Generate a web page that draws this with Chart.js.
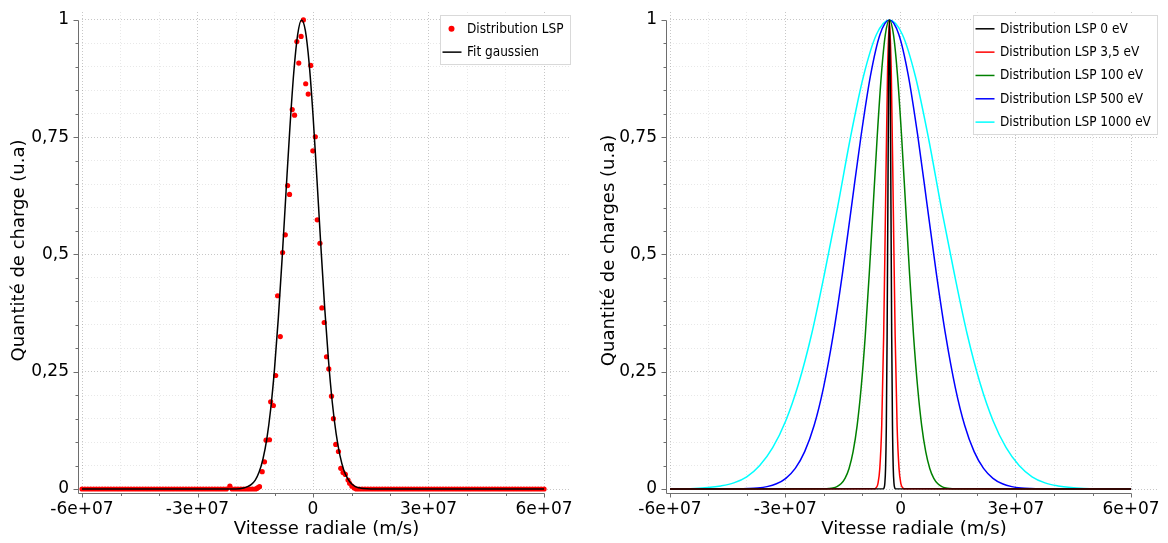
<!DOCTYPE html>
<html lang="fr">
<head>
<meta charset="utf-8">
<title>Distribution LSP</title>
<script src="https://cdn.jsdelivr.net/npm/chart.js@4.4.1/dist/chart.umd.min.js"></script>
<style>
  html, body { margin: 0; padding: 0; background: #fff; }
  .ligne { display: flex; width: 1168px; height: 543px; }
  canvas { display: block; }
</style>
</head>
<body>
<div class="ligne">
  <canvas id="graphe-mesure" width="584" height="543"></canvas>
  <canvas id="graphe-energies" width="584" height="543"></canvas>
</div>
<script>
// --- DONNÉES (vitesses en 1e6 m/s) ---

// Distribution LSP mesurée (points rouges) : [vitesse, charge]
const mesureLSP = [
  [-60, 0], [-59.25, 0], [-58.5, 0], [-57.75, 0], [-57, 0], [-56.25, 0], [-55.5, 0], [-54.75, 0], [-54, 0], [-53.25, 0],
  [-52.5, 0], [-51.75, 0], [-51, 0], [-50.25, 0], [-49.5, 0], [-48.75, 0], [-48, 0], [-47.25, 0], [-46.5, 0], [-45.75, 0],
  [-45, 0], [-44.25, 0], [-43.5, 0], [-42.75, 0], [-42, 0], [-41.25, 0], [-40.5, 0], [-39.75, 0], [-39, 0], [-38.25, 0],
  [-37.5, 0], [-36.75, 0], [-36, 0], [-35.25, 0], [-34.5, 0], [-33.75, 0], [-33, 0], [-32.25, 0], [-31.5, 0], [-30.75, 0],
  [-30, 0], [-29.25, 0], [-28.5, 0], [-27.75, 0], [-27, 0], [-26.25, 0], [-25.5, 0], [-24.75, 0], [-24, 0], [-23.25, 0],
  [-22.5, 0], [-21.6, 0.006], [-21, 0], [-20.25, 0], [-19.5, 0], [-18.75, 0], [-18, 0], [-17.25, 0], [-16.5, 0], [-15.75, 0],
  [-15, 0], [-14.6, 0.001], [-14.3, 0.003], [-13.9, 0.005], [-13.2, 0.037], [-12.6, 0.058], [-12.2, 0.104], [-11.3, 0.105],
  [-11.0, 0.186], [-10.3, 0.178], [-9.7, 0.242], [-9.2, 0.412], [-8.5, 0.325], [-7.9, 0.504], [-7.2, 0.542], [-6.6, 0.647],
  [-6.1, 0.628], [-5.4, 0.809], [-4.8, 0.797], [-4.2, 0.954], [-3.7, 0.908], [-3.1, 0.965], [-2.5, 1.0], [-1.9, 0.864],
  [-1.25, 0.842], [-0.6, 0.903], [-0.05, 0.721], [0.6, 0.751], [1.1, 0.574], [1.8, 0.524], [2.3, 0.386], [2.9, 0.355],
  [3.5, 0.282], [4.1, 0.256], [4.8, 0.198], [5.3, 0.150], [5.9, 0.095], [6.6, 0.080], [7.2, 0.044], [7.8, 0.035],
  [8.4, 0.031], [9.1, 0.019], [9.5, 0.012], [10.1, 0.006], [10.7, 0.002],
  [11.25, 0], [12, 0], [12.75, 0], [13.5, 0], [14.25, 0], [15, 0], [15.75, 0], [16.5, 0], [17.25, 0], [18, 0],
  [18.75, 0], [19.5, 0], [20.25, 0], [21, 0], [21.75, 0], [22.5, 0], [23.25, 0], [24, 0], [24.75, 0], [25.5, 0],
  [26.25, 0], [27, 0], [27.75, 0], [28.5, 0], [29.25, 0], [30, 0], [30.75, 0], [31.5, 0], [32.25, 0], [33, 0],
  [33.75, 0], [34.5, 0], [35.25, 0], [36, 0], [36.75, 0], [37.5, 0], [38.25, 0], [39, 0], [39.75, 0], [40.5, 0],
  [41.25, 0], [42, 0], [42.75, 0], [43.5, 0], [44.25, 0], [45, 0], [45.75, 0], [46.5, 0], [47.25, 0], [48, 0],
  [48.75, 0], [49.5, 0], [50.25, 0], [51, 0], [51.75, 0], [52.5, 0], [53.25, 0], [54, 0], [54.75, 0], [55.5, 0],
  [56.25, 0], [57, 0], [57.75, 0], [58.5, 0], [59.25, 0], [60, 0]
];

// Fit gaussien
const vitesseFit = [-60, -30, -20, -18, -17, -16, -15, -14, -13, -12, -11, -10, -9, -8, -7, -6, -5, -4, -3, -2, -1,
  0, 1, 2, 3, 4, 5, 6, 7, 8, 9, 10, 11, 12, 13, 15, 20, 30, 60];
const chargeFit = [0, 0, 0, 0.002, 0.005, 0.010, 0.019, 0.036, 0.064, 0.107, 0.170, 0.256, 0.366, 0.495, 0.635, 0.771, 0.888, 0.968, 1.0, 0.978, 0.907,
  0.797, 0.663, 0.523, 0.390, 0.276, 0.185, 0.118, 0.071, 0.040, 0.022, 0.011, 0.005, 0.0025, 0.001, 0, 0, 0, 0];

// Distributions LSP selon l'énergie
const vitesse0eV = [-60, -4.5, -4.3, -4.1, -3.9, -3.7, -3.5, -3.3, -3.1, -2.9, -2.7, -2.5, -2.3, -2.1, -1.9, -1.7, -1.5, -1.3, 60];
const charge0eV = [0, 0.0003, 0.0022, 0.0111, 0.0439, 0.1353, 0.3247, 0.6065, 0.8825, 1, 0.8825, 0.6065, 0.3247, 0.1353, 0.0439, 0.0111, 0.0022, 0.0003, 0];

const vitesse3eV = [-60, -6.9, -6.4, -5.9, -5.4, -4.9, -4.4, -3.9, -3.4, -2.9, -2.4, -1.9, -1.4, -0.9, -0.4, 0.1, 0.6, 1.1, 60];
const charge3eV = [0, 0.0003, 0.0022, 0.0111, 0.0439, 0.1353, 0.3247, 0.6065, 0.8825, 1, 0.8825, 0.6065, 0.3247, 0.1353, 0.0439, 0.0111, 0.0022, 0.0003, 0];

const vitesse100eV = [-60, -19.7, -18.65, -17.6, -16.55, -15.5, -14.45, -13.4, -12.35, -11.3, -10.25, -9.2, -8.15, -7.1, -6.05, -5.0, -3.95,
  -2.9, -1.85, -0.8, 0.25, 1.3, 2.35, 3.4, 4.45, 5.5, 6.55, 7.6, 8.65, 9.7, 10.75, 11.8, 12.85, 13.9, 60];
const charge100eV = [0, 0.0003, 0.0009, 0.0022, 0.0051, 0.0111, 0.0228, 0.0439, 0.0796, 0.1353, 0.2163, 0.3247, 0.4578, 0.6065, 0.7548, 0.8825, 0.9692,
  1, 0.9692, 0.8825, 0.7548, 0.6065, 0.4578, 0.3247, 0.2163, 0.1353, 0.0796, 0.0439, 0.0228, 0.0111, 0.0051, 0.0022, 0.0009, 0.0003, 0];

const vitesse500eV = [-60, -42.1, -39.65, -37.2, -34.75, -32.3, -29.85, -27.4, -24.95, -22.5, -20.05, -17.6, -15.15, -12.7, -10.25, -7.8, -5.35,
  -2.9, -0.45, 2.0, 4.45, 6.9, 9.35, 11.8, 14.25, 16.7, 19.15, 21.6, 24.05, 26.5, 28.95, 31.4, 33.85, 36.3, 60];
const charge500eV = [0, 0.0003, 0.0009, 0.0022, 0.0051, 0.0111, 0.0228, 0.0439, 0.0796, 0.1353, 0.2163, 0.3247, 0.4578, 0.6065, 0.7548, 0.8825, 0.9692,
  1, 0.9692, 0.8825, 0.7548, 0.6065, 0.4578, 0.3247, 0.2163, 0.1353, 0.0796, 0.0439, 0.0228, 0.0111, 0.0051, 0.0022, 0.0009, 0.0003, 0];

const vitesse1000eV = [-60, -56.9, -53.525, -50.15, -46.775, -43.4, -40.025, -36.65, -33.275, -29.9, -26.525, -23.15, -19.775, -16.4, -13.025, -9.65, -6.275,
  -2.9, 0.475, 3.85, 7.225, 10.6, 13.975, 17.35, 20.725, 24.1, 27.475, 30.85, 34.225, 37.6, 40.975, 44.35, 47.725, 51.1, 60];
const charge1000eV = [0, 0.0004, 0.0012, 0.003, 0.0065, 0.013, 0.026, 0.05, 0.088, 0.145, 0.225, 0.33, 0.46, 0.6, 0.75, 0.88, 0.969,
  1, 0.969, 0.88, 0.75, 0.6, 0.46, 0.33, 0.225, 0.145, 0.088, 0.05, 0.026, 0.013, 0.0065, 0.003, 0.0012, 0.0004, 0];

// Graduations
const ticksX = [-6e7, -3e7, 0, 3e7, 6e7];
const labelsX = ['-6e+07', '-3e+07', '0', '3e+07', '6e+07'];
const ticksY = [0, 0.25, 0.5, 0.75, 1];
const labelsY = ['0', '0,25', '0,5', '0,75', '1'];

// graduations secondaires : tous les 1e7 et tous les 0,05
const minorX = [];
for (let i = -6; i <= 6; i++) minorX.push(i * 1e7);
const minorY = [];
for (let i = 0; i <= 20; i++) minorY.push(i / 20);

const AXIS_FONT = "'DejaVu Sans', Verdana, sans-serif";
const LEGEND_FONT = "'DejaVu Sans Condensed', 'Liberation Sans', sans-serif";

function toPoints(vx, vy) {
    return vx.map((v, i) => ({ x: v * 1e6, y: vy[i] }));
}

function gridColor(majors, ctx) {
    if (!ctx.tick) return 'rgba(0,0,0,0.1)';
    return majors.includes(ctx.tick.value) ? 'rgba(0,0,0,0.22)' : 'rgba(0,0,0,0.09)';
}

// Axes décalés du cadre, avec petites graduations
const axesPlugin = {
    id: 'axesDecales',
    afterDraw(chart) {
        const { ctx, chartArea, scales: { x, y } } = chart;
        const ax = chartArea.left - 4 + 0.5;
        const ay = chartArea.bottom + 4 + 0.5;
        ctx.save();
        ctx.strokeStyle = '#6e6e6e';
        ctx.lineWidth = 1;
        ctx.beginPath();
        ctx.moveTo(ax, Math.round(y.getPixelForValue(1)) + 0.5);
        ctx.lineTo(ax, ay);
        ctx.lineTo(Math.round(x.getPixelForValue(6e7)) + 0.5, ay);
        minorY.forEach(v => {
            const p = Math.round(y.getPixelForValue(v)) + 0.5;
            const len = ticksY.includes(v) ? 5 : 3;
            ctx.moveTo(ax - len, p);
            ctx.lineTo(ax, p);
        });
        minorX.forEach(v => {
            const p = Math.round(x.getPixelForValue(v)) + 0.5;
            const len = ticksX.includes(v) ? 4 : 2.5;
            ctx.moveTo(p, ay);
            ctx.lineTo(p, ay + len);
        });
        ctx.stroke();
        ctx.restore();
    }
};

// Légende encadrée dans le coin haut droit
const legendePlugin = {
    id: 'legendeCadre',
    afterDraw(chart) {
        const { ctx, chartArea } = chart;
        const sets = chart.data.datasets;
        ctx.save();
        ctx.font = '13.5px ' + LEGEND_FONT;
        const textW = Math.max(...sets.map(d => ctx.measureText(d.label).width));
        const w = Math.round(textW + 33);
        const h = Math.round(13.3 + (sets.length - 1) * 23.33 + 12);
        const left = Math.round(chartArea.right - 1 - w) + 0.5;
        const top = Math.round(chartArea.top + 3) + 0.5;
        ctx.fillStyle = '#fff';
        ctx.fillRect(left, top, w, h);
        ctx.strokeStyle = '#d9d9d9';
        ctx.lineWidth = 1;
        ctx.strokeRect(left, top, w, h);
        sets.forEach((d, i) => {
            const yy = top + 13.3 + i * 23.33;
            if (d.showLine) {
                ctx.strokeStyle = d.borderColor;
                ctx.lineWidth = 1.5;
                ctx.beginPath();
                ctx.moveTo(left + 2, yy);
                ctx.lineTo(left + 21, yy);
                ctx.stroke();
            } else {
                ctx.fillStyle = d.backgroundColor;
                ctx.beginPath();
                ctx.arc(left + 11, yy, 3, 0, Math.PI * 2);
                ctx.fill();
            }
            ctx.fillStyle = '#000';
            ctx.textBaseline = 'middle';
            ctx.fillText(d.label, left + 26.5, yy + 0.5);
        });
        ctx.restore();
    }
};

function makeScales(yTitle, yWidth, yTitlePad) {
    return {
        x: {
            type: 'linear',
            min: -6e7,
            max: 6.7e7,
            afterBuildTicks: s => { s.ticks = minorX.map(v => ({ value: v })); },
            afterFit: s => { s.height = 54; s.paddingLeft = 0; s.paddingRight = 0; },
            ticks: {
                autoSkip: false,
                maxRotation: 0,
                padding: 10,
                color: '#000',
                font: { family: AXIS_FONT, size: 17 },
                callback: v => {
                    const i = ticksX.indexOf(v);
                    return i >= 0 ? labelsX[i] : '';
                }
            },
            grid: { drawTicks: false, lineWidth: 1, color: ctx => gridColor(ticksX, ctx) },
            border: { display: false, dash: [1, 2] },
            title: {
                display: true,
                text: 'Vitesse radiale (m/s)',
                color: '#000',
                font: { family: AXIS_FONT, size: 18 },
                padding: { top: 0, bottom: 3 }
            }
        },
        y: {
            type: 'linear',
            min: 0,
            max: 1.017,
            afterBuildTicks: s => { s.ticks = minorY.map(v => ({ value: v })); },
            afterFit: s => { s.width = yWidth; s.paddingTop = 0; s.paddingBottom = 0; },
            ticks: {
                autoSkip: false,
                padding: 13,
                color: '#000',
                font: { family: AXIS_FONT, size: 17 },
                callback: v => {
                    const i = ticksY.indexOf(v);
                    return i >= 0 ? labelsY[i] : '';
                }
            },
            grid: { drawTicks: false, lineWidth: 1, color: ctx => gridColor(ticksY, ctx) },
            border: { display: false, dash: [1, 2] },
            title: {
                display: true,
                text: yTitle,
                color: '#000',
                font: { family: AXIS_FONT, size: 18 },
                padding: { top: yTitlePad, bottom: 0 }
            }
        }
    };
}

function lineSet(label, color, vx, vy) {
    return {
        label: label,
        data: toPoints(vx, vy),
        showLine: true,
        borderColor: color,
        backgroundColor: color,
        borderWidth: 1.5,
        pointRadius: 0,
        cubicInterpolationMode: 'monotone',
        clip: false
    };
}

const baseOptions = (scales, padRight) => ({
    responsive: false,
    animation: false,
    layout: { padding: { top: 12, right: padRight, bottom: 0, left: 0 } },
    plugins: { legend: { display: false }, tooltip: { enabled: false } },
    scales: scales
});

// Graphe de gauche : mesure et fit
new Chart(document.getElementById('graphe-mesure'), {
    type: 'scatter',
    data: {
        datasets: [
            {
                label: 'Distribution LSP',
                data: mesureLSP.map(p => ({ x: p[0] * 1e6, y: p[1] })),
                showLine: false,
                backgroundColor: '#ff0000',
                borderWidth: 0,
                pointRadius: 2.6,
                order: 1,
                clip: false
            },
            Object.assign(lineSet('Fit gaussien', '#000000', vitesseFit, chargeFit), { order: 0 })
        ]
    },
    options: baseOptions(makeScales('Quantité de charge (u.a)', 82, 9), 13),
    plugins: [axesPlugin, legendePlugin]
});

// Graphe de droite : distributions selon l'énergie
new Chart(document.getElementById('graphe-energies'), {
    type: 'scatter',
    data: {
        datasets: [
            lineSet('Distribution LSP 0 eV', '#000000', vitesse0eV, charge0eV),
            lineSet('Distribution LSP 3,5 eV', '#ff0000', vitesse3eV, charge3eV),
            lineSet('Distribution LSP 100 eV', '#008000', vitesse100eV, charge100eV),
            lineSet('Distribution LSP 500 eV', '#0000ff', vitesse500eV, charge500eV),
            lineSet('Distribution LSP 1000 eV', '#00ffff', vitesse1000eV, charge1000eV)
        ]
    },
    options: baseOptions(makeScales('Quantité de charges (u.a)', 86, 15), 10),
    plugins: [axesPlugin, legendePlugin]
});
</script>
</body>
</html>
